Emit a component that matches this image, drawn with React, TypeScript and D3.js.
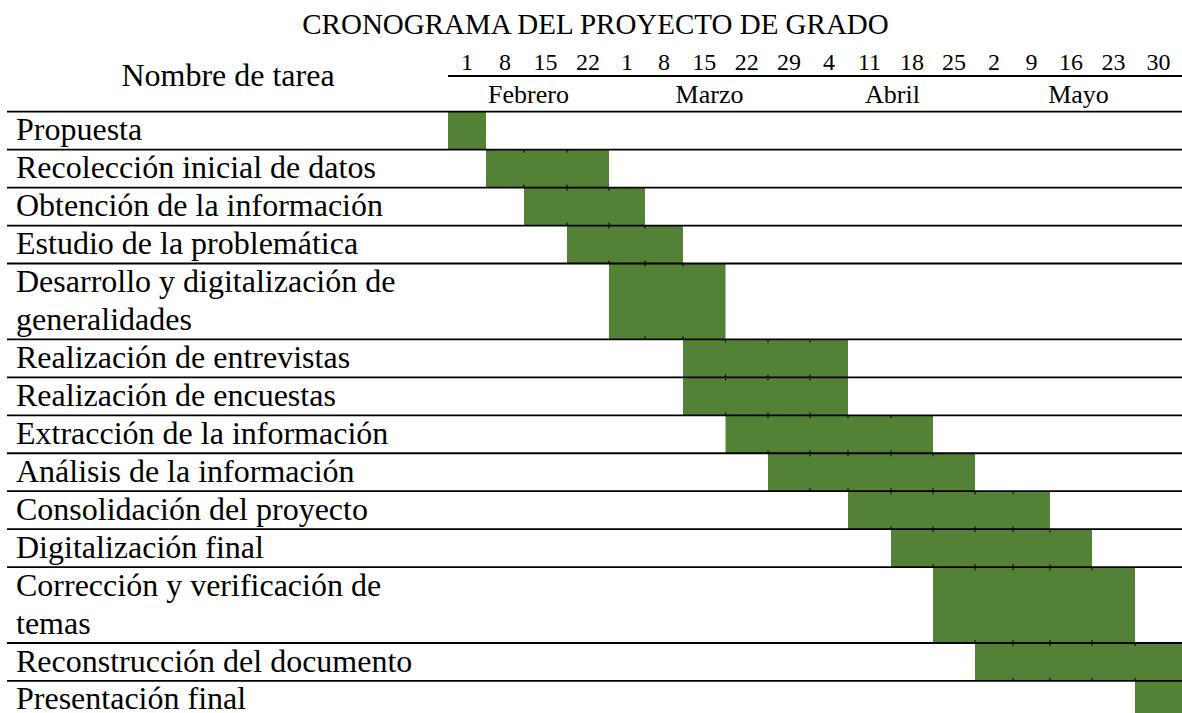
import React from "react";
import * as d3 from "d3";

// ---- data ----
const title = "CRONOGRAMA DEL PROYECTO DE GRADO";
const taskHeader = "Nombre de tarea";
const weekLabels = ["1", "8", "15", "22", "1", "8", "15", "22", "29", "4", "11", "18", "25", "2", "9", "16", "23", "30"];
const monthNames = ["Febrero", "Marzo", "Abril", "Mayo"];
const monthWeekCounts = [4, 5, 4, 5];
const taskLabels = [
  "Propuesta",
  "Recolección inicial de datos",
  "Obtención de la información",
  "Estudio de la problemática",
  "Desarrollo y digitalización de\ngeneralidades",
  "Realización de entrevistas",
  "Realización de encuestas",
  "Extracción de la información",
  "Análisis de la información",
  "Consolidación del proyecto",
  "Digitalización final",
  "Corrección y verificación de\ntemas",
  "Reconstrucción del documento",
  "Presentación final",
];
// start week index (inclusive), end week index (exclusive)
const taskStartWeek = [0, 1, 2, 3, 4, 6, 6, 7, 8, 10, 11, 12, 13, 17];
const taskEndWeek = [1, 4, 5, 6, 7, 10, 10, 12, 13, 15, 16, 17, 18, 18];

// ---- layout ----
const W = 1182;
const H = 713;
const COL_EDGES = [448, 486, 524, 567, 609, 645, 683, 725.5, 768, 810, 848, 891, 933, 975, 1013, 1050, 1092, 1135, 1182];
const HEADER_BOTTOM = 111.7;
const LINE_H = 37.95;
const FONT = "'Liberation Serif', 'Times New Roman', serif";
const GREEN = "#538135";

export default function App() {
  const x = d3.scaleLinear().domain(d3.range(COL_EDGES.length)).range(COL_EDGES);

  // line-count per task and cumulative line index
  const lineCounts = taskLabels.map((l) => l.split("\n").length);
  const lineStart: number[] = [];
  let acc = 0;
  lineCounts.forEach((c) => {
    lineStart.push(acc);
    acc += c;
  });
  const totalLines = acc;
  const y = d3.scaleLinear().domain([0, totalLines]).range([HEADER_BOTTOM, HEADER_BOTTOM + totalLines * LINE_H]);

  const monthStarts: number[] = [];
  let m = 0;
  monthWeekCounts.forEach((c) => {
    monthStarts.push(m);
    m += c;
  });

  return (
    <svg
      width={W}
      height={H}
      style={{ position: "absolute", left: 0, top: 0, background: "#fff" }}
      fontFamily={FONT}
    >
      <rect x={0} y={0} width={W} height={H} fill="#fff" />
      {/* title */}
      <text x={595.5} y={34} fontSize={29} textAnchor="middle" fill="#000">
        {title}
      </text>
      <text x={228} y={86} fontSize={32} textAnchor="middle" fill="#000">
        {taskHeader}
      </text>
      {/* week labels */}
      {weekLabels.map((w, i) => (
        <text key={"w" + i} x={(x(i) + x(i + 1)) / 2} y={69.5} fontSize={24} textAnchor="middle" fill="#000">
          {w}
        </text>
      ))}
      <line x1={x(0)} x2={x(weekLabels.length)} y1={76} y2={76} stroke="#000" strokeWidth={1.8} />
      {/* months */}
      {monthNames.map((name, i) => (
        <text
          key={"m" + i}
          x={(x(monthStarts[i]) + x(monthStarts[i] + monthWeekCounts[i])) / 2}
          y={103}
          fontSize={26}
          textAnchor="middle"
          fill="#000"
        >
          {name}
        </text>
      ))}
      {/* bars */}
      {taskLabels.map((_, i) => {
        const y0 = y(lineStart[i]);
        const y1 = y(lineStart[i] + lineCounts[i]);
        const ticks = d3.range(taskStartWeek[i] + 1, taskEndWeek[i]);
        return (
          <g key={"b" + i}>
            <rect
              x={x(taskStartWeek[i])}
              y={y0}
              width={x(taskEndWeek[i]) - x(taskStartWeek[i])}
              height={y1 - y0}
              fill={GREEN}
            />
            {ticks.map((t) => (
              <g key={t}>
                <line x1={x(t)} x2={x(t)} y1={y0} y2={y0 + 3} stroke="#000" strokeWidth={1} />
                <line x1={x(t)} x2={x(t)} y1={y1 - 3} y2={y1} stroke="#000" strokeWidth={1} />
              </g>
            ))}
          </g>
        );
      })}
      {/* row lines */}
      {d3.range(taskLabels.length + 1).map((i) => {
        const yy = i < taskLabels.length ? y(lineStart[i]) : y(totalLines);
        return <line key={"l" + i} x1={7} x2={W} y1={yy} y2={yy} stroke="#000" strokeWidth={1.8} />;
      })}
      {/* task labels */}
      {taskLabels.map((label, i) =>
        label.split("\n").map((ln, j) => (
          <text key={"t" + i + "-" + j} x={16} y={y(lineStart[i] + j) + 28.5} fontSize={32} fill="#000">
            {ln}
          </text>
        ))
      )}
    </svg>
  );
}
